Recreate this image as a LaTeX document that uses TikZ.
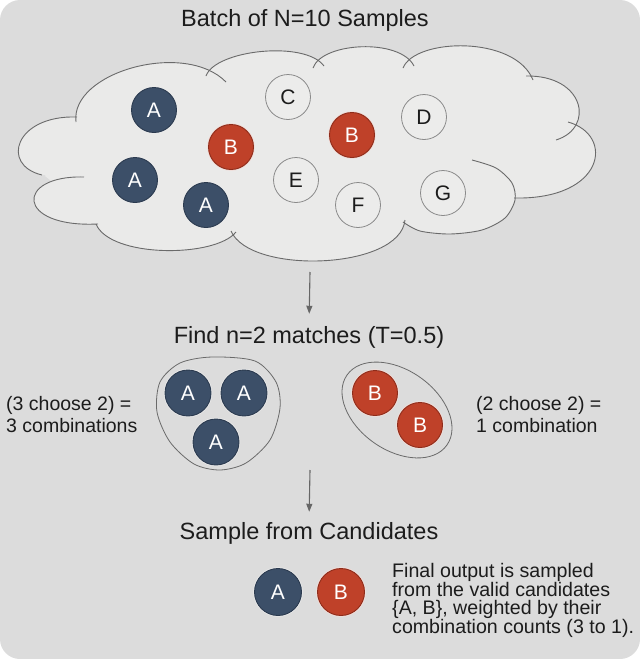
\documentclass[tikz,border=0pt]{standalone}
\usepackage{fontspec}
\setmainfont{Liberation Sans}
\usetikzlibrary{arrows.meta,shapes.geometric}
\definecolor{bgc}{HTML}{DCDCDC}
\definecolor{cloudfill}{HTML}{EAEAE9}
\definecolor{cloudline}{HTML}{6A6A6A}
\definecolor{dblue}{HTML}{3C4F68}
\definecolor{dblueb}{HTML}{2B3A4F}
\definecolor{rred}{HTML}{BF4129}
\definecolor{rredb}{HTML}{8E2C1A}
\definecolor{lightc}{HTML}{ECECEB}
\definecolor{lightb}{HTML}{8A8A8A}
\definecolor{txt}{HTML}{1C1C1C}
\definecolor{arrc}{HTML}{666666}
\begin{document}
\begin{tikzpicture}[x=1pt,y=-1pt,
  ball/.style={circle, inner sep=0pt, minimum size=45pt, line width=0.9pt,
    preaction={draw=white!85!gray, line width=2.4pt},
    font=\fontsize{21}{24}\selectfont},
  balla/.style={ball, fill=dblue, draw=dblueb, text=white},
  ballb/.style={ball, fill=rred, draw=rredb, text=white,
    preaction={draw=white!80!rred, line width=2.4pt}},
  ballx/.style={ball, fill=lightc, draw=lightb, text=txt, line width=0.8pt},
  heading/.style={inner sep=0pt, text=txt, font=\fontsize{23.5}{28}\selectfont},
  sidetext/.style={inner sep=0pt, text=txt, align=left, font=\fontsize{19.5}{21.7}\selectfont},
  captext/.style={inner sep=0pt, text=txt, align=left, font=\fontsize{19.6}{17.8}\selectfont},
  cloudstroke/.style={draw=cloudline, line width=0.9pt},
  groupline/.style={draw=cloudline, line width=0.8pt},
  arr/.style={draw=arrc, line width=1.1pt, -{Triangle[length=8pt,width=6pt]}}
]
\useasboundingbox (0,0) rectangle (640,659);
\fill[white] (0,0) rectangle (640,659);
\fill[bgc, rounded corners=20pt] (0,0) rectangle (640,659);

% ---- title
\node[heading, anchor=base] (title) at (305,26) {Batch of N=10 Samples};

% ---- cloud fill
\fill[cloudfill] (76,122) .. controls (70,72) and (185,40) .. (226,82)
 -- (206,76) .. controls (215,50) and (305,40) .. (324,66)
 -- (313,68) .. controls (322,42) and (400,38) .. (414,66)
 -- (403,68) .. controls (415,38) and (515,35) .. (533,80)
 -- (526,76) .. controls (585,75) and (595,128) .. (556,140)
 -- (568,122) .. controls (615,135) and (605,200) .. (514,198)
 -- plot[smooth] coordinates {(472,160) (496,168) (512,183) (515,200) (505,218) (482,230) (450,234) (420,231) (403,222)}
 -- (405,220) .. controls (400,270) and (250,275) .. (231,231)
 -- (236,232) .. controls (215,258) and (110,258) .. (96,224)
 -- (98,224) .. controls (15,228) and (15,175) .. (84,177)
 -- (42,175) .. controls (0,165) and (15,115) .. (77,117) -- cycle;
\fill[cloudfill] (77,118) -- (226,82) -- (324,66) -- (414,66) -- (533,80) -- (556,140)
 -- (505,195) -- (404,214) -- (233,226) -- (98,218) -- (45,176) -- cycle;
% ---- cloud outline
\draw[cloudstroke] (76,122) .. controls (70,72) and (185,40) .. (226,82);
\draw[cloudstroke] (206,76) .. controls (215,50) and (305,40) .. (324,66);
\draw[cloudstroke] (313,68) .. controls (322,42) and (400,38) .. (414,66);
\draw[cloudstroke] (403,68) .. controls (415,38) and (515,35) .. (533,80);
\draw[cloudstroke] (526,76) .. controls (585,75) and (595,128) .. (556,140);
\draw[cloudstroke] (568,122) .. controls (615,135) and (605,200) .. (514,198);
\draw[cloudstroke] plot[smooth] coordinates {(472,160) (496,168) (512,183) (515,200) (505,218) (482,230) (450,234) (420,231) (403,222)};
\draw[cloudstroke] (405,220) .. controls (400,270) and (250,275) .. (231,231);
\draw[cloudstroke] (236,232) .. controls (215,258) and (110,258) .. (96,224);
\draw[cloudstroke] (98,224) .. controls (15,228) and (15,175) .. (84,177);
\draw[cloudstroke] (42,175) .. controls (0,165) and (15,115) .. (77,117);

% ---- samples in the cloud
\node[balla] (a1) at (154,110) {A};
\node[ballb] (b1) at (231,147) {B};
\node[ballx] (c)  at (288,97)  {C};
\node[ballb] (b2) at (352,135) {B};
\node[ballx] (d)  at (424,117) {D};
\node[balla] (a2) at (135,180) {A};
\node[ballx] (e)  at (296,180) {E};
\node[balla] (a3) at (206,205) {A};
\node[ballx] (f)  at (358,205) {F};
\node[ballx] (g)  at (443,193) {G};

% ---- step 2
\coordinate (cloudbot) at (310,272);
\node[heading, anchor=base] (find) at (309,343) {Find n=2 matches (T=0.5)};
\draw[arr, shorten >=12pt] (cloudbot) -- (find.north);

\draw[groupline] plot[smooth cycle] coordinates {(212,357) (255,361) (276,382) (280,408) (270,440) (246,463) (220,470) (194,464) (170,442) (157,412) (160,382) (180,363)};
\node[balla, minimum size=46pt] (ga1) at (188,393) {A};
\node[balla, minimum size=46pt] (ga2) at (244,393) {A};
\node[balla, minimum size=46pt] (ga3) at (216,442) {A};

\node[groupline, ellipse, inner sep=0pt, minimum width=122pt, minimum height=80pt, rotate=-35] (gb) at (397,410) {};
\node[ballb] (gb1) at (375,393) {B};
\node[ballb] (gb2) at (420,425) {B};

\node[sidetext, anchor=north west] (lefttxt) at (6,396) {(3 choose 2) =\\3 combinations};
\node[sidetext, anchor=north west] (righttxt) at (476,396) {(2 choose 2) =\\1 combination};

% ---- step 3
\coordinate (groupsbot) at (310,470);
\node[heading, anchor=base] (samp) at (309,539) {Sample from Candidates};
\draw[arr, shorten >=10pt] (groupsbot) -- (samp.north);

\node[balla, minimum size=47pt] (fa) at (278,592) {A};
\node[ballb, minimum size=47pt] (fb) at (341,592) {B};

\node[captext, anchor=north west] (cap) at (392,562.7) {Final output is sampled\\from the valid candidates\\\{A, B\}, weighted by their\\combination counts (3 to 1).};
\end{tikzpicture}
\end{document}
